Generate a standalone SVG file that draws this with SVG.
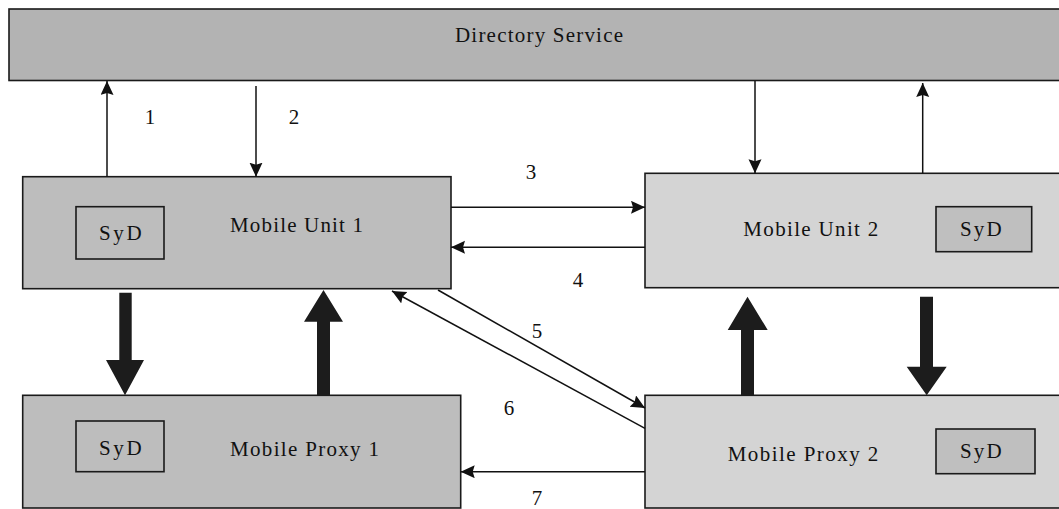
<svg xmlns="http://www.w3.org/2000/svg" width="1059" height="509" viewBox="0 0 1059 509">
  <style>
    .box { stroke: #1a1a1a; stroke-width: 1.6; }
    .dark { fill: #bdbdbd; }
    .light { fill: #d4d4d4; }
    .dir { fill: #b3b3b3; }
    .syd-light { fill: #bfbfbf; }
    .label { font-family: "Liberation Serif", "Times New Roman", serif; font-size: 21px; fill: #111; }
    .num { font-family: "Liberation Serif", "Times New Roman", serif; font-size: 21px; fill: #111; text-anchor: middle; }
    .thin { stroke: #111; stroke-width: 1.5; fill: none; marker-end: url(#head); }
    .thick { fill: #1c1c1c; }
  </style>
  <defs>
    <marker id="head" markerUnits="userSpaceOnUse" markerWidth="16" markerHeight="14" refX="14" refY="6.5" orient="auto">
      <path d="M0,0 L14,6.5 L0,13 L2,6.5 z" fill="#111"/>
    </marker>
  </defs>
  <rect width="1059" height="509" fill="#ffffff"/>

  <!-- Directory Service bar -->
  <g id="directory-service">
    <rect class="box dir" x="9" y="9" width="1060" height="71.5"/>
    <text class="label" x="455" y="42" textLength="168" lengthAdjust="spacing">Directory Service</text>
  </g>

  <!-- Mobile Unit 1 -->
  <g id="mobile-unit-1">
    <rect class="box dark" x="22.7" y="176.7" width="428.3" height="112"/>
    <rect class="box dark" x="76" y="206.7" width="88" height="52.3"/>
    <text class="label" x="99" y="240" textLength="42.7" lengthAdjust="spacing">SyD</text>
    <text class="label" x="230" y="231.7" textLength="133" lengthAdjust="spacing">Mobile Unit 1</text>
  </g>

  <!-- Mobile Unit 2 -->
  <g id="mobile-unit-2">
    <rect class="box light" x="645" y="173.3" width="420" height="114.4"/>
    <rect class="box syd-light" x="936" y="206.7" width="95.7" height="45"/>
    <text class="label" x="960" y="236" textLength="41.7" lengthAdjust="spacing">SyD</text>
    <text class="label" x="743.3" y="236" textLength="135" lengthAdjust="spacing">Mobile Unit 2</text>
  </g>

  <!-- Mobile Proxy 1 -->
  <g id="mobile-proxy-1">
    <rect class="box dark" x="22.7" y="395.3" width="438" height="112.7"/>
    <rect class="box dark" x="76" y="421" width="88" height="50.7"/>
    <text class="label" x="99" y="455" textLength="42.7" lengthAdjust="spacing">SyD</text>
    <text class="label" x="230" y="456" textLength="149" lengthAdjust="spacing">Mobile Proxy 1</text>
  </g>

  <!-- Mobile Proxy 2 -->
  <g id="mobile-proxy-2">
    <rect class="box light" x="645" y="395.3" width="420" height="112.7"/>
    <rect class="box syd-light" x="936" y="429" width="99" height="44.7"/>
    <text class="label" x="960" y="458.3" textLength="41.7" lengthAdjust="spacing">SyD</text>
    <text class="label" x="727.7" y="460.7" textLength="150.6" lengthAdjust="spacing">Mobile Proxy 2</text>
  </g>

  <!-- Connectors -->
  <g id="connectors">
    <!-- message arrows -->
    <line class="thin" x1="107" y1="176.7" x2="107" y2="81"/>
    <line class="thin" x1="256" y1="86" x2="256" y2="176.7"/>
    <line class="thin" x1="755" y1="81" x2="755" y2="173.3"/>
    <line class="thin" x1="922.7" y1="173.3" x2="922.7" y2="83"/>
    <line class="thin" x1="451" y1="207.3" x2="645" y2="207.3"/>
    <line class="thin" x1="645" y1="247.3" x2="451" y2="247.3"/>
    <line class="thin" x1="438" y1="290" x2="645" y2="408"/>
    <line class="thin" x1="645" y1="428.3" x2="392" y2="291"/>
    <line class="thin" x1="645" y1="471.7" x2="460.7" y2="471.7"/>

    <!-- bulk transfer arrows -->
    <polygon class="thick" points="119.3,292.7 131.7,292.7 131.7,360 144,360 125,395.3 106,360 119.3,360"/>
    <polygon class="thick" points="317,395.3 330,395.3 330,321.7 343,321.7 323.5,290 304,321.7 317,321.7"/>
    <polygon class="thick" points="741,395.3 754,395.3 754,330 767.7,330 747.5,296.7 727.7,330 741,330"/>
    <polygon class="thick" points="920,296.7 933,296.7 933,366.7 946.7,366.7 926.7,395.3 906.7,366.7 920,366.7"/>

    <!-- step numbers -->
    <text class="num" x="150" y="124">1</text>
    <text class="num" x="294" y="124">2</text>
    <text class="num" x="531" y="179">3</text>
    <text class="num" x="578" y="287">4</text>
    <text class="num" x="537" y="338">5</text>
    <text class="num" x="509" y="415">6</text>
    <text class="num" x="537" y="505">7</text>
  </g>
</svg>
